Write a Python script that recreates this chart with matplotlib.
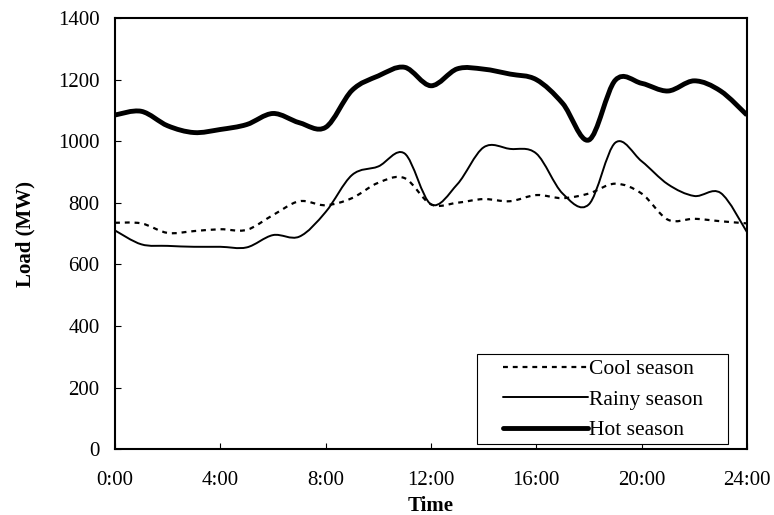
#!/usr/bin/env python3
"""Daily load profiles by season (smoothed lines, Excel style)."""

import matplotlib
matplotlib.use("Agg")
import matplotlib.pyplot as plt
from matplotlib.path import Path
from matplotlib.patches import PathPatch, Rectangle
from matplotlib.lines import Line2D

hours = list(range(25))
tick_hours = [0, 4, 8, 12, 16, 20, 24]
tick_labels = ["0:00", "4:00", "8:00", "12:00", "16:00", "20:00", "24:00"]

cool = [735, 733, 702, 708, 714, 712, 760, 805, 792, 815, 865, 880, 795,
        800, 812, 805, 825, 815, 830, 862, 830, 745, 748, 740, 733]
rainy = [710, 665, 660, 657, 657, 655, 695, 690, 770, 890, 918, 960, 795,
         860, 980, 975, 960, 830, 795, 995, 935, 860, 822, 832, 705]
hot = [1085, 1097, 1050, 1028, 1038, 1054, 1090, 1060, 1045, 1165, 1212, 1240, 1180,
       1235, 1234, 1218, 1200, 1123, 1004, 1198, 1188, 1163, 1196, 1163, 1085]


def smooth_path(xs, ys):
    """Catmull-Rom style bezier through the points (like Excel 'smoothed line')."""
    pts = list(zip(xs, ys))
    n = len(pts)
    verts = [pts[0]]
    codes = [Path.MOVETO]
    for i in range(n - 1):
        p0 = pts[i - 1] if i > 0 else pts[i]
        p1 = pts[i]
        p2 = pts[i + 1]
        p3 = pts[i + 2] if i + 2 < n else pts[i + 1]
        c1 = (p1[0] + (p2[0] - p0[0]) / 6, p1[1] + (p2[1] - p0[1]) / 6)
        c2 = (p2[0] - (p3[0] - p1[0]) / 6, p2[1] - (p3[1] - p1[1]) / 6)
        verts += [c1, c2, p2]
        codes += [Path.CURVE4] * 3
    return Path(verts, codes)


plt.rcParams["font.family"] = ["Liberation Serif", "DejaVu Serif"]
plt.rcParams["font.size"] = 15

fig = plt.figure(figsize=(7.74, 5.15), dpi=100)
ax = fig.add_axes([0.1486, 0.128, 0.8164, 0.837])

styles = [
    ("Cool season", cool, dict(linewidth=1.6, linestyle=(0, (2.2, 2.2)))),
    ("Rainy season", rainy, dict(linewidth=1.4, linestyle="-")),
    ("Hot season", hot, dict(linewidth=3.5, linestyle="-")),
]

handles = []
for label, vals, st in styles:
    patch = PathPatch(smooth_path(hours, vals), fill=False, edgecolor="black",
                      capstyle="butt", joinstyle="round", **st)
    ax.add_patch(patch)
    handles.append(Line2D([], [], color="black", solid_capstyle="round",
                          dash_capstyle="butt", **st))

ax.set_xlim(0, 24)
ax.set_ylim(0, 1400)
ax.set_xticks(tick_hours)
ax.set_xticklabels(tick_labels)
ax.set_yticks(range(0, 1401, 200))

for sp in ax.spines.values():
    sp.set_linewidth(1.5)
ax.tick_params(axis="both", direction="in", length=4.5, width=0.8)
ax.tick_params(axis="x", pad=16)
ax.tick_params(axis="y", pad=11)

ax.set_xlabel("Time", fontweight="bold", fontsize=15, labelpad=4)
ax.set_ylabel("Load (MW)", fontweight="bold", fontsize=15, labelpad=16)

# legend box drawn separately (wide side padding, tight top/bottom)
ax.add_patch(Rectangle((0.573, 0.0116), 0.397, 0.2088, transform=ax.transAxes,
                       facecolor="white", edgecolor="black", linewidth=0.8, zorder=4))
leg = ax.legend(handles, [s[0] for s in styles], loc="upper left",
                bbox_to_anchor=(0.614, 0.208), handlelength=3.95, handletextpad=0.05,
                frameon=False, borderpad=0, labelspacing=0.48, borderaxespad=0,
                fontsize=15.5)
leg.set_zorder(5)

fig.savefig("out.png", dpi=100)
